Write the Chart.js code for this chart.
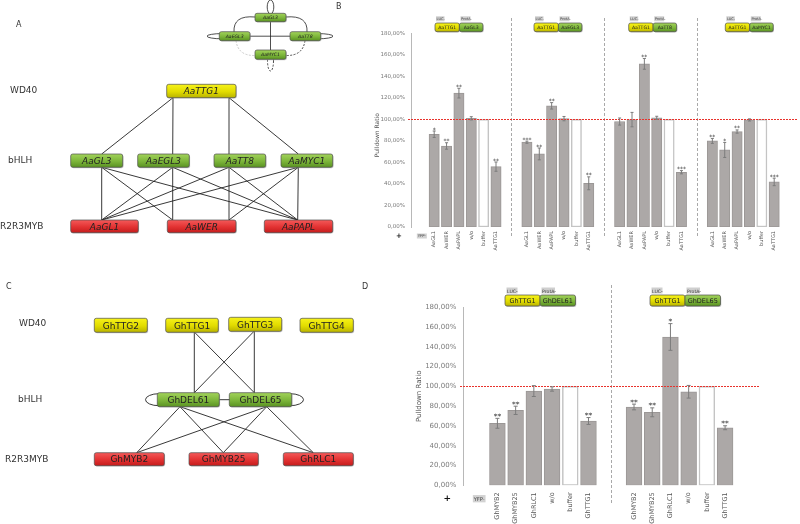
<!DOCTYPE html>
<html>
<head>
<meta charset="utf-8">
<script src="https://cdn.jsdelivr.net/npm/chart.js@4.4.0/dist/chart.umd.min.js"></script>
<style>
    html, body { margin: 0; padding: 0; background: #fff; }
    #wrap { position: relative; width: 800px; height: 524px; overflow: hidden; font-family: "DejaVu Sans", sans-serif; }
    #cB { position: absolute; left: 340px; top: 0; }
    #cD { position: absolute; left: 360px; top: 270px; }
    #net { position: absolute; left: 0; top: 0; }
</style>
</head>
<body>
<div id="wrap">
    <canvas id="cB" width="460" height="270"></canvas>
    <canvas id="cD" width="440" height="254"></canvas>
    <svg id="net" width="800" height="524"></svg>
</div>
<script>
"use strict";

// B: LUC-AaTTG1 pulled down with ProtA-bHLH, one row per bHLH
const B_PREY = ["AaGL3", "AaEGL3", "AaTT8", "AaMYC1"];
const B_LABELS = ["AaGL1", "AaWER", "AaPAPL", "w/o", "buffer", "AaTTG1"];
const B_VALUES = [
    [86.2, 75.3, 124.4, 101.0, 100, 56.1],
    [78.8, 67.9, 112.6, 100.7, 100, 40.6],
    [98.0, 99.8, 151.6, 101.4, 100, 50.9],
    [80.0, 71.6, 88.7, 99.5, 100, 41.9]
];
const B_ERRORS = [
    [3.0, 3.0, 4.5, 1.5, 0, 4.3],
    [1.0, 5.5, 3.0, 2.0, 0, 6.0],
    [3.3, 6.7, 5.0, 1.5, 0, 1.5],
    [2.3, 7.0, 1.5, 1.0, 0, 3.5]
];
const B_STARS = [
    ["*", "**", "**", "", "", "**"],
    ["***", "**", "**", "", "", "**"],
    ["", "", "**", "", "", "***"],
    ["**", "*", "**", "", "", "***"]
];

// D: LUC-GhTTG1 pulled down with ProtA-GhDEL61 / GhDEL65
const D_PREY = ["GhDEL61", "GhDEL65"];
const D_LABELS = ["GhMYB2", "GhMYB25", "GhRLC1", "w/o", "buffer", "GhTTG1"];
const D_VALUES = [
    [62.7, 75.8, 95.3, 97.4, 100, 65.0],
    [79.2, 73.8, 150.0, 94.6, 100, 58.2]
];
const D_ERRORS = [
    [5.0, 4.2, 5.5, 2.2, 0, 3.5],
    [2.9, 4.5, 13.5, 6.4, 0, 2.0]
];
const D_STARS = [
    ["**", "**", "", "", "", "**"],
    ["**", "**", "*", "", "", "**"]
];

const Y_TICKS = [0, 20, 40, 60, 80, 100, 120, 140, 160, 180];

Chart.defaults.font.family = "DejaVu Sans";

function makeChart(id, labels, values, errors, stars, L) {
    const pts = [], xt = [0], xl = [""], errs = [], sts = [];
    values.forEach((grp, g) => grp.forEach((v, i) => {
        const x = 1 + g * 7.5 + i;
        pts.push({ x: x, y: v });
        xt.push(x); xl.push(labels[i]);
        errs.push(errors[g][i]); sts.push(stars[g][i]);
    }));
    const seps = values.slice(1).map((_, g) => 7.25 + g * 7.5);
    const isBuf = pts.map((p, i) => xl[i + 1] === "buffer");

    const extras = {
        id: "extras_" + id,
        beforeDatasetsDraw(chart) {
            const ctx = chart.ctx, xs = chart.scales.x;
            ctx.save();
            ctx.strokeStyle = "#a9a9a9"; ctx.lineWidth = 1; ctx.setLineDash([3, 2]);
            seps.forEach(v => {
                const px = Math.round(xs.getPixelForValue(v)) + 0.5;
                ctx.beginPath(); ctx.moveTo(px, L.sepTop); ctx.lineTo(px, L.sepBottom); ctx.stroke();
            });
            ctx.restore();
        },
        afterDatasetsDraw(chart) {
            const ctx = chart.ctx, xs = chart.scales.x, ys = chart.scales.y, a = chart.chartArea;
            ctx.save();
            // 100% line, dotted in red
            const ry = Math.round(ys.getPixelForValue(100));
            ctx.fillStyle = "rgb(232, 50, 44)";
            for (let px = Math.round(a.left) - 3; px < a.right; px += 3) ctx.fillRect(px, ry, 2, 1);
            // error bars and significance
            chart.getDatasetMeta(0).data.forEach((bar, i) => {
                const v = pts[i].y, e = errs[i];
                const top = ys.getPixelForValue(v + e), bot = ys.getPixelForValue(v - e);
                if (e > 0) {
                    ctx.strokeStyle = "#7c7c7c"; ctx.lineWidth = 1;
                    ctx.beginPath();
                    ctx.moveTo(bar.x, top); ctx.lineTo(bar.x, bot);
                    ctx.moveTo(bar.x - L.cap, top); ctx.lineTo(bar.x + L.cap, top);
                    ctx.moveTo(bar.x - L.cap, bot); ctx.lineTo(bar.x + L.cap, bot);
                    ctx.stroke();
                }
                if (sts[i]) {
                    ctx.fillStyle = "#333"; ctx.font = L.starFont + "px DejaVu Sans";
                    ctx.textAlign = "center"; ctx.textBaseline = "alphabetic";
                    ctx.fillText(sts[i], bar.x, top + L.starGap);
                }
            });
            // y title
            ctx.save();
            ctx.translate(a.left - L.titleOff, (a.top + a.bottom) / 2 + L.titleDy);
            ctx.rotate(-Math.PI / 2);
            ctx.fillStyle = "#555"; ctx.font = L.titleFont + "px DejaVu Sans";
            ctx.textAlign = "center"; ctx.textBaseline = "middle";
            ctx.fillText("Pulldown Ratio", 0, 0);
            ctx.restore();
            // "+ YFP-"
            const yx = xs.getPixelForValue(0);
            ctx.fillStyle = "#d2d2d2";
            ctx.fillRect(yx - L.yfpW / 2, L.yfpY - L.yfpH / 2, L.yfpW, L.yfpH);
            ctx.fillStyle = "#444"; ctx.font = L.yfpFont + "px DejaVu Sans";
            ctx.textAlign = "center"; ctx.textBaseline = "middle";
            ctx.fillText("YFP-", yx, L.yfpY + 0.5);
            ctx.font = "bold " + L.plusFont + "px DejaVu Sans";
            ctx.fillStyle = "#111";
            ctx.fillText("+", a.left - L.plusOff, L.yfpY);
            ctx.restore();
        }
    };

    return new Chart(document.getElementById(id), {
        type: "bar",
        data: {
            datasets: [{
                data: pts,
                barThickness: L.barW,
                backgroundColor: isBuf.map(b => b ? "#ffffff" : "#aca8a7"),
                borderColor: isBuf.map(b => b ? "#c4c4c4" : "#9b9796"),
                borderWidth: isBuf.map(b => b ? 1.5 : 1),
                borderSkipped: false
            }]
        },
        options: {
            responsive: false,
            animation: false,
            layout: { padding: { top: L.top, right: L.right, left: 0, bottom: 0 } },
            plugins: { legend: { display: false }, tooltip: { enabled: false } },
            scales: {
                x: {
                    type: "linear", min: -0.25, max: L.xMax,
                    grid: { display: false, drawTicks: false }, border: { display: false },
                    afterBuildTicks: s => { s.ticks = xt.map(v => ({ value: v })); },
                    afterFit: s => { s.height = L.xH; },
                    ticks: {
                        autoSkip: false, minRotation: 90, maxRotation: 90, padding: L.xPad,
                        color: "#555", font: { size: L.xFont },
                        callback: (v, i) => xl[i]
                    }
                },
                y: {
                    min: 0, max: 180,
                    grid: { display: false, drawTicks: false },
                    border: { display: true, color: "#b8b8b8" },
                    afterBuildTicks: s => { s.ticks = Y_TICKS.map(v => ({ value: v })); },
                    afterFit: s => { s.width = L.yW; },
                    ticks: {
                        padding: L.yPad, color: "#7a7a7a", font: { size: L.yFont },
                        callback: v => v.toFixed(2).replace(".", ",") + "%"
                    }
                }
            }
        },
        plugins: [extras]
    });
}

makeChart("cB", B_LABELS, B_VALUES, B_ERRORS, B_STARS, {
    top: 33.3, right: 2, yW: 71, xH: 43, xMax: 29.8, barW: 10.3,
    xPad: 4, xFont: 5, yPad: 6, yFont: 5.5, cap: 1.5, starFont: 6, starGap: 0.5,
    sepTop: 18, sepBottom: 236, titleOff: 34, titleDy: 5, titleFont: 6,
    yfpW: 10, yfpH: 5, yfpY: 236, yfpFont: 3.8, plusFont: 7, plusOff: 12
});

makeChart("cD", D_LABELS, D_VALUES, D_ERRORS, D_STARS, {
    top: 37.3, right: 41.7, yW: 103.3, xH: 38.7, xMax: 14.7, barW: 15.8,
    xPad: 7, xFont: 6.5, yPad: 7, yFont: 7, cap: 2, starFont: 7.5, starGap: 0.5,
    sepTop: 15, sepBottom: 235, titleOff: 44, titleDy: 0, titleFont: 7,
    yfpW: 12.7, yfpH: 7.3, yfpY: 228.7, yfpFont: 5.2, plusFont: 9, plusOff: 16
});

// ---- network diagrams and construct boxes (SVG) ----
const NS = "http://www.w3.org/2000/svg";
const svg = document.getElementById("net");
svg.innerHTML =
    '<defs>' +
    '<linearGradient id="gy" x1="0" y1="0" x2="0" y2="1"><stop offset="0" stop-color="#f6f21a"/><stop offset="0.55" stop-color="#e2dc00"/><stop offset="1" stop-color="#b9b300"/></linearGradient>' +
    '<linearGradient id="gg" x1="0" y1="0" x2="0" y2="1"><stop offset="0" stop-color="#a2d35a"/><stop offset="0.55" stop-color="#7cb53a"/><stop offset="1" stop-color="#5a9222"/></linearGradient>' +
    '<linearGradient id="gr" x1="0" y1="0" x2="0" y2="1"><stop offset="0" stop-color="#f45a5a"/><stop offset="0.55" stop-color="#e23232"/><stop offset="1" stop-color="#c41c1c"/></linearGradient>' +
    '</defs>';

function add(tag, attrs, text) {
    const e = document.createElementNS(NS, tag);
    for (const k in attrs) e.setAttribute(k, attrs[k]);
    if (text) e.textContent = text;
    svg.appendChild(e);
    return e;
}

function line(x1, y1, x2, y2, extra) {
    return add("line", Object.assign({ x1, y1, x2, y2, stroke: "#222", "stroke-width": 0.9 }, extra || {}));
}

function box(x, y, w, h, kind, text, fs, italic) {
    add("rect", { x: x + 0.8, y: y + 0.9, width: w, height: h, rx: 2, fill: "#9a9a9a", opacity: 0.55 });
    add("rect", { x, y, width: w, height: h, rx: 2, fill: "url(#g" + kind + ")", stroke: "#4e4e4e", "stroke-width": 0.7 });
    add("text", {
        x: x + w / 2, y: y + h / 2 + fs * 0.36, "text-anchor": "middle", "font-size": fs,
        "font-style": italic ? "italic" : "normal", fill: "#222", "font-family": "DejaVu Sans"
    }, text);
}

function tag(x, y, w, h, text, fs) {
    add("rect", { x, y, width: w, height: h, fill: "#cfcfcf" });
    add("text", { x: x + 0.6, y: y + h - 0.9, "font-size": fs, fill: "#444", "font-family": "DejaVu Sans" }, text);
}

function label(x, y, text, fs) {
    add("text", { x, y, "font-size": fs, fill: "#333", "font-family": "DejaVu Sans" }, text);
}

// panel letters
label(16, 27, "A", 8); label(336, 9, "B", 8); label(6, 289, "C", 8); label(362, 289, "D", 8);

// panel A: small interaction sketch
add("ellipse", { cx: 270.5, cy: 7, rx: 3.3, ry: 7, fill: "none", stroke: "#222", "stroke-width": 0.8 });
add("ellipse", { cx: 222, cy: 36.2, rx: 15, ry: 2.6, fill: "none", stroke: "#222", "stroke-width": 0.8 });
add("ellipse", { cx: 318, cy: 36.2, rx: 15, ry: 2.6, fill: "none", stroke: "#222", "stroke-width": 0.8 });
add("ellipse", { cx: 270.5, cy: 61, rx: 3, ry: 10, fill: "none", stroke: "#222", "stroke-width": 0.8, "stroke-dasharray": "2 1.5" });
add("path", { d: "M255,17 Q233,15 234,32", fill: "none", stroke: "#222", "stroke-width": 0.8 });
add("path", { d: "M286,17 Q308,15 307,32", fill: "none", stroke: "#222", "stroke-width": 0.8 });
add("path", { d: "M236,40.5 Q238,56 255,55.5", fill: "none", stroke: "#bdbdbd", "stroke-width": 0.8, "stroke-dasharray": "2 1.5" });
add("path", { d: "M305,40.5 Q303,56 286,55.5", fill: "none", stroke: "#222", "stroke-width": 0.8, "stroke-dasharray": "2 1.5" });
line(250, 36.2, 290, 36.2, { "stroke-width": 0.8 });
line(270.5, 21.7, 270.5, 50, { "stroke-width": 0.8 });
box(255, 13.3, 31, 8.4, "g", "AaGL3", 4.6, true);
box(219.3, 31.7, 30.7, 9, "g", "AaEGL3", 4.6, true);
box(290, 31.7, 30.7, 9, "g", "AaTT8", 4.6, true);
box(255, 50, 31, 9.3, "g", "AaMYC1", 4.6, true);

// panel A: network
label(10, 93, "WD40", 9); label(8, 163, "bHLH", 9); label(0, 229, "R2R3MYB", 9);
const aTop = [101.7, 172.7, 229, 298.3];
const aMyb = [101.7, [172.7, 229], 297.7];
[[173, 101.7], [173, 172.7], [229, 229], [229, 298.3]].forEach(p => line(p[0], 97.7, p[1], 154));
aTop.forEach((bx, i) => aMyb.forEach(m => {
    const mx = Array.isArray(m) ? m[i < 2 ? 0 : 1] : m;
    line(bx, 167.3, mx, 220);
}));
box(166.7, 84.3, 69.3, 13.4, "y", "AaTTG1", 9, true);
box(70.7, 154, 52, 13.3, "g", "AaGL3", 9, true);
box(137.7, 154, 51.6, 13.3, "g", "AaEGL3", 9, true);
box(214, 154, 51.7, 13.3, "g", "AaTT8", 9, true);
box(281, 154, 51.7, 13.3, "g", "AaMYC1", 9, true);
box(70.7, 220, 67.6, 12.7, "r", "AaGL1", 9, true);
box(167.3, 220, 68.7, 12.7, "r", "AaWER", 9, true);
box(264.3, 220, 68.4, 12.7, "r", "AaPAPL", 9, true);

// panel C: network
label(19, 326, "WD40", 9); label(18, 402, "bHLH", 9); label(5, 462, "R2R3MYB", 9);
line(194.3, 332, 194.3, 392.7); line(194.3, 332, 254.3, 392.7);
line(254.3, 331, 254.3, 392.7); line(254.3, 331, 194.3, 392.7);
line(219, 399.7, 230, 399.7);
add("ellipse", { cx: 159, cy: 399.7, rx: 13.5, ry: 6, fill: "none", stroke: "#222", "stroke-width": 0.9 });
add("ellipse", { cx: 290, cy: 399.7, rx: 13.5, ry: 6, fill: "none", stroke: "#222", "stroke-width": 0.9 });
[180, 266.7].forEach(bx => [136.7, 223.3, 313.3].forEach(mx => line(bx, 406.7, mx, 452.7)));
box(94.3, 318.3, 53, 14, "y", "GhTTG2", 9, false);
box(165.7, 318.3, 52.6, 14, "y", "GhTTG1", 9, false);
box(228.7, 317.3, 53, 14, "y", "GhTTG3", 9, false);
box(300, 318.3, 53.3, 14, "y", "GhTTG4", 9, false);
box(157.3, 392.7, 62, 14, "g", "GhDEL61", 9, false);
box(229.3, 392.7, 62.4, 14, "g", "GhDEL65", 9, false);
box(94.3, 452.7, 70, 13, "r", "GhMYB2", 9, false);
box(189, 452.7, 69.3, 13, "r", "GhMYB25", 9, false);
box(283.3, 452.7, 70, 13, "r", "GhRLC1", 9, false);

// construct headers above B and D
[435, 534, 628.7, 725.3].forEach((x, g) => {
    tag(x + 1, 16.3, 8.5, 5, "LUC-", 3.6);
    tag(x + 25.5, 16.3, 10, 5, "ProtA-", 3.6);
    box(x, 23, 24.4, 8.7, "y", "AaTTG1", 4.6, false);
    box(x + 24.4, 23, 23.5, 8.7, "g", B_PREY[g], 4.6, false);
});
[505, 650].forEach((x, g) => {
    tag(x + 1.5, 287.5, 11, 6, "LUC-", 4.6);
    tag(x + 36.5, 287.5, 13.5, 6, "ProtA-", 4.6);
    box(x, 295, 35, 11, "y", "GhTTG1", 6.5, false);
    box(x + 35, 295, 35.5, 11, "g", D_PREY[g], 6.5, false);
});
</script>
</body>
</html>
